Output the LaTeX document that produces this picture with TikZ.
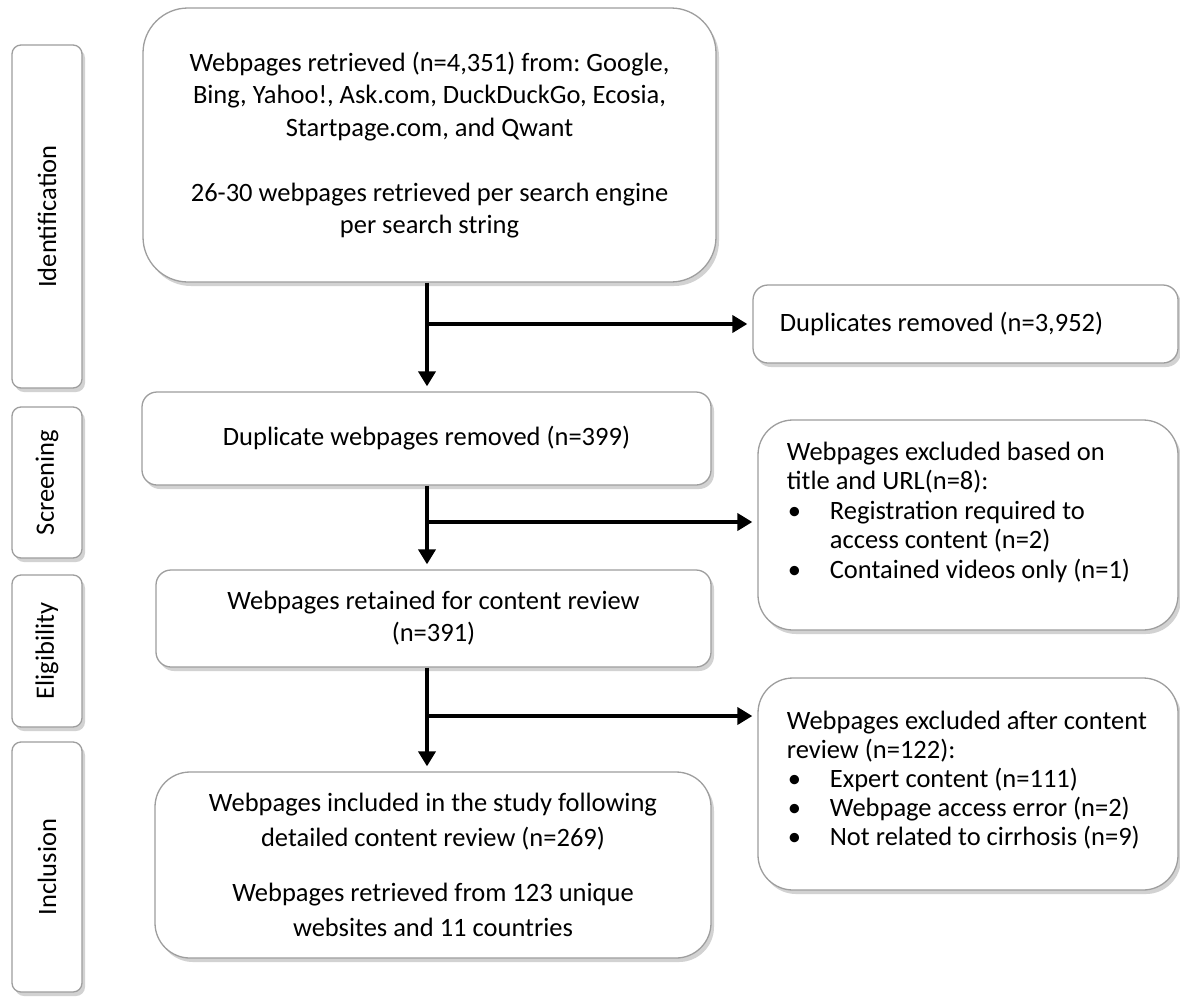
\documentclass[tikz,border=0pt]{standalone}
\usepackage{fontspec}
\setmainfont{Carlito}
\usetikzlibrary{arrows.meta, shadows, positioning}

\newcommand{\itembul}{\makebox[43pt][l]{\hspace*{1pt}\textbullet}}
\newcommand{\itemcont}{\hspace*{43pt}}

\begin{document}
\frenchspacing
\begin{tikzpicture}[x=1pt, y=-1pt,
    font=\fontsize{26.5}{30}\selectfont,
    box/.style={rectangle, draw=black!38, line width=1.3pt, fill=white, rounded corners=#1, align=center,
        drop shadow={shadow xshift=3pt, shadow yshift=-4pt, opacity=.25, fill=black!70}},
    box/.default=15pt,
    stage/.style={box=9pt, minimum width=70pt, inner sep=0pt},
    arrow/.style={-{Triangle[width=17pt,length=15pt]}, line width=4pt, shorten >=5pt}
]
\useasboundingbox (0,0) rectangle (1180,996);
\fill[white] (0,0) rectangle (1180,996);

% stages on the left
\node[stage, minimum height=343pt] (ident) at (47,216.5) {\rotatebox{90}{Identification}};
\node[stage, minimum height=151pt] (screen) at (47,482.5) {\rotatebox{90}{Screening}};
\node[stage, minimum height=152pt] (elig) at (47,651) {\rotatebox{90}{Eligibility}};
\node[stage, minimum height=250pt] (incl) at (47,867) {\rotatebox{90}{Inclusion}};

% main column
\node[box=45pt, minimum width=573pt, minimum height=274pt, font=\fontsize{26.5}{32.5}\selectfont] (search) at (429.5,145)
    {Webpages retrieved (n=4,351) from: Google,\\Bing, Yahoo!, Ask.com, DuckDuckGo, Ecosia,\\Startpage.com, and Qwant\\[32.5pt]26-30 webpages retrieved per search engine\\per search string};
\node[box, minimum width=569pt, minimum height=93pt] (dedup) at (426.5,438.5) {Duplicate webpages removed (n=399)};
\node[box, minimum width=555pt, minimum height=97pt, font=\fontsize{26.5}{32}\selectfont] (retained) at (433.5,618.5)
    {Webpages retained for content review\\(n=391)};
\node[box=35pt, minimum width=556pt, minimum height=186pt, font=\fontsize{26.5}{35}\selectfont] (included) at (433,865)
    {Webpages included in the study following\\detailed content review (n=269)\\[20pt]Webpages retrieved from 123 unique\\websites and 11 countries};

% excluded records
\node[box, minimum width=425pt, minimum height=78pt] (dups) at (965.5,324) {};
\node[anchor=west] (dupstxt) at ([xshift=24pt]dups.west) {Duplicates removed (n=3,952)};
\node[box=35pt, minimum width=420pt, minimum height=210pt] (excl1) at (968,525) {};
\node[anchor=west, align=left, font=\fontsize{26.5}{29.5}\selectfont] (excl1txt) at ([xshift=26pt, yshift=13pt]excl1.west)
    {Webpages excluded based on\\title and URL(n=8):\\\itembul Registration required to\\\itemcont access content (n=2)\\\itembul Contained videos only (n=1)};
\node[box=35pt, minimum width=420pt, minimum height=212pt] (excl2) at (968,784) {};
\node[anchor=west, align=left, font=\fontsize{26.5}{29}\selectfont] (excl2txt) at ([xshift=26pt, yshift=4pt]excl2.west)
    {Webpages excluded after content\\review (n=122):\\\itembul Expert content (n=111)\\\itembul Webpage access error (n=2)\\\itembul Not related to cirrhosis (n=9)};

% connectors
\coordinate (spine) at (427,0);
\coordinate (fork2) at (427,522);
\coordinate (fork3) at (427,716);
\draw[arrow] (search.south -| spine) -- (dedup.north -| spine);
\draw[arrow] (dedup.south -| spine) -- (retained.north -| spine);
\draw[arrow] (retained.south -| spine) -- (included.north -| spine);
\draw[arrow] (spine |- dups.west) -- (dups.west);
\draw[arrow] (fork2) -- (fork2 -| excl1.west);
\draw[arrow] (fork3) -- (fork3 -| excl2.west);
\end{tikzpicture}
\end{document}
